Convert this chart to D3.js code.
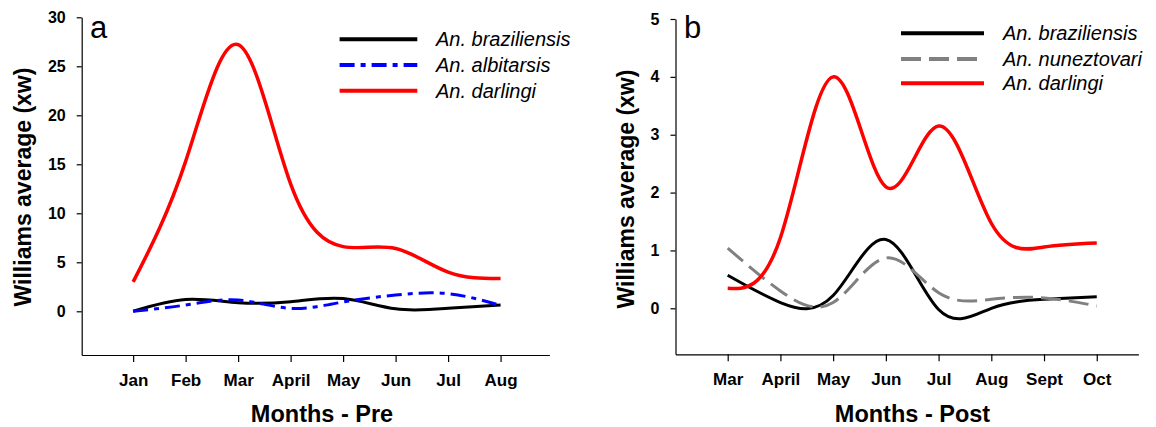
<!DOCTYPE html>
<html>
<head>
<meta charset="utf-8">
<script src="https://cdn.jsdelivr.net/npm/d3@7"></script>
<style>
  body { margin: 0; background: #fff; }
  text { font-family: "Liberation Sans", Arial, sans-serif; }
  .tick line, .domain { stroke: #000; stroke-width: 1.2; }
</style>
</head>
<body>
<div class="container"></div>
<script>
const width = 1156,
    height = 427;

// panel a - before
const monthsPre = ["Jan", "Feb", "Mar", "April", "May", "Jun", "Jul", "Aug"];
const preBraziliensis = [0.0, 1.2, 0.88, 0.98, 1.3, 0.25, 0.3, 0.65];
const preAlbitarsis = [0.0, 0.64, 1.15, 0.3, 0.95, 1.66, 1.8, 0.6];
const preDarlingi = [3.0, 15.3, 27.2, 13.0, 6.6, 6.4, 4.0, 3.35];
const preYTicks = [0, 5, 10, 15, 20, 25, 30];

// panel b - after
const monthsPost = ["Mar", "April", "May", "Jun", "Jul", "Aug", "Sept", "Oct"];
const postBraziliensis = [0.57, 0.1, 0.22, 1.19, -0.02, 0.0, 0.155, 0.2];
const postNuneztovari = [1.04, 0.3, 0.1, 0.87, 0.27, 0.155, 0.18, 0.04];
const postDarlingi = [0.345, 1.22, 4.0, 2.1, 3.15, 1.47, 1.06, 1.13];
const postYTicks = [0, 1, 2, 3, 4, 5];

const styles = {
  braz: { color: "#000", dash: null, w: 3 },
  albi: { color: "#0000ff", dash: "15,6,5,6", w: 3 },
  nune: { color: "#808080", dash: "20,8", w: 3 },
  darl: { color: "#ff0000", dash: null, w: 3.5 }
};

const svg = d3.select(".container")
  .append("svg")
  .attr("width", width)
  .attr("height", height);

const drawPanel = (p) => {
  const x = d3.scaleLinear().domain(p.xDomain).range(p.xRange);
  const y = d3.scaleLinear().domain(p.yDomain).range(p.yRange);
  const g = svg.append("g");

  g.append("g")
    .attr("transform", `translate(0,${p.yRange[0]})`)
    .call(d3.axisBottom(x)
      .tickValues(d3.range(p.months.length))
      .tickFormat((i) => p.months[i])
      .tickSize(7).tickPadding(12).tickSizeOuter(0))
    .call((a) => a.selectAll("text")
      .attr("fill", "#000")
      .style("font-size", "17px")
      .style("font-weight", "bold"));

  g.append("g")
    .attr("transform", `translate(${p.xRange[0]},0)`)
    .call(d3.axisLeft(y)
      .tickValues(p.yTicks)
      .tickFormat(d3.format("d"))
      .tickSize(5).tickPadding(11).tickSizeOuter(0))
    .call((a) => a.selectAll("text")
      .attr("fill", "#000")
      .style("font-size", "16px")
      .style("font-weight", "bold"));

  const line = d3.line()
    .x((d, i) => x(i))
    .y((d) => y(d))
    .curve(d3.curveNatural);

  p.series.forEach((s) => {
    g.append("path")
      .datum(s.values)
      .attr("d", line)
      .attr("fill", "none")
      .attr("stroke", s.style.color)
      .attr("stroke-width", s.style.w)
      .attr("stroke-dasharray", s.style.dash);
  });

  // legend
  p.series.forEach((s, i) => {
    const ly = p.legend.y[i];
    g.append("line")
      .attr("x1", p.legend.x1).attr("x2", p.legend.x2)
      .attr("y1", ly).attr("y2", ly)
      .attr("stroke", s.style.color)
      .attr("stroke-width", 4)
      .attr("stroke-dasharray", s.style.dash);
    g.append("text")
      .attr("x", p.legend.tx)
      .attr("y", ly + 7)
      .style("font-size", "20px")
      .style("font-style", "italic")
      .text(s.name);
  });

  g.append("text")
    .attr("x", p.letter[0]).attr("y", p.letter[1])
    .style("font-size", "31px")
    .text(p.label);

  g.append("text")
    .attr("x", p.xTitle[0]).attr("y", p.xTitle[1])
    .attr("text-anchor", "middle")
    .style("font-size", "23.5px")
    .style("font-weight", "bold")
    .text(p.xTitleText);

  g.append("text")
    .attr("transform", `translate(${p.yTitle[0]},${p.yTitle[1]}) rotate(-90)`)
    .attr("text-anchor", "middle")
    .style("font-size", "23px")
    .style("font-weight", "bold")
    .text("Williams average (xw)");
};

drawPanel({
  label: "a",
  months: monthsPre,
  yTicks: preYTicks,
  xDomain: [-0.98, 7.93], xRange: [81.7, 549.4],
  yDomain: [-4.46, 30], yRange: [355, 17.3],
  series: [
    { name: "An. braziliensis", values: preBraziliensis, style: styles.braz },
    { name: "An. albitarsis", values: preAlbitarsis, style: styles.albi },
    { name: "An. darlingi", values: preDarlingi, style: styles.darl }
  ],
  legend: { x1: 339.6, x2: 417.3, tx: 436, y: [39.3, 65, 90.7] },
  letter: [90, 38],
  xTitle: [322, 421.5],
  xTitleText: "Months - Pre",
  yTitle: [31, 187]
});

drawPanel({
  label: "b",
  months: monthsPost,
  yTicks: postYTicks,
  xDomain: [-0.99, 7.79], xRange: [675.5, 1138.4],
  yDomain: [-0.795, 5], yRange: [354.3, 19],
  series: [
    { name: "An. braziliensis", values: postBraziliensis, style: styles.braz },
    { name: "An. nuneztovari", values: postNuneztovari, style: styles.nune },
    { name: "An. darlingi", values: postDarlingi, style: styles.darl }
  ],
  legend: { x1: 901, x2: 984, tx: 1003, y: [33.3, 59, 83.3] },
  letter: [684, 37.5],
  xTitle: [912.5, 421.5],
  xTitleText: "Months - Post",
  yTitle: [634, 189]
});
</script>
</body>
</html>
